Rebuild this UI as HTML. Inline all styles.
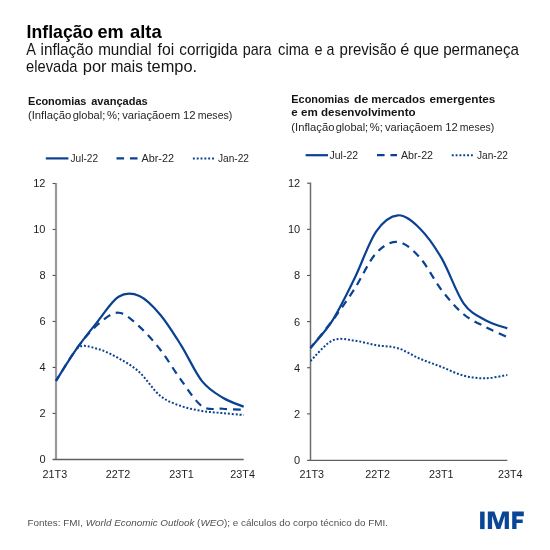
<!DOCTYPE html>
<html><head><meta charset="utf-8"><style>
html,body{margin:0;padding:0;background:#fff;}
svg{display:block;will-change:transform;}
</style></head><body>
<svg width="550" height="550" viewBox="0 0 550 550">
<rect width="550" height="550" fill="#fff"/>
<g font-family="Liberation Sans, sans-serif">
<text x="26.62" y="38.40" textLength="66.71" lengthAdjust="spacingAndGlyphs" font-size="17.90" font-weight="bold" font-style="normal" fill="#000">Inflação</text>
<text x="97.49" y="38.40" textLength="26.24" lengthAdjust="spacingAndGlyphs" font-size="17.90" font-weight="bold" font-style="normal" fill="#000">em</text>
<text x="129.99" y="38.40" textLength="31.66" lengthAdjust="spacingAndGlyphs" font-size="17.90" font-weight="bold" font-style="normal" fill="#000">alta</text>
<text x="26.30" y="54.60" textLength="9.70" lengthAdjust="spacingAndGlyphs" font-size="15.90" font-weight="normal" font-style="normal" fill="#141414">A</text>
<text x="40.54" y="54.60" textLength="52.68" lengthAdjust="spacingAndGlyphs" font-size="15.90" font-weight="normal" font-style="normal" fill="#141414">inflação</text>
<text x="98.14" y="54.60" textLength="53.45" lengthAdjust="spacingAndGlyphs" font-size="15.90" font-weight="normal" font-style="normal" fill="#141414">mundial</text>
<text x="157.60" y="54.60" textLength="16.62" lengthAdjust="spacingAndGlyphs" font-size="15.90" font-weight="normal" font-style="normal" fill="#141414">foi</text>
<text x="179.32" y="54.60" textLength="58.52" lengthAdjust="spacingAndGlyphs" font-size="15.90" font-weight="normal" font-style="normal" fill="#141414">corrigida</text>
<text x="242.70" y="54.60" textLength="28.75" lengthAdjust="spacingAndGlyphs" font-size="15.90" font-weight="normal" font-style="normal" fill="#141414">para</text>
<text x="278.05" y="54.60" textLength="31.00" lengthAdjust="spacingAndGlyphs" font-size="15.90" font-weight="normal" font-style="normal" fill="#141414">cima</text>
<text x="314.56" y="54.60" textLength="8.03" lengthAdjust="spacingAndGlyphs" font-size="15.90" font-weight="normal" font-style="normal" fill="#141414">e</text>
<text x="326.47" y="54.60" textLength="7.88" lengthAdjust="spacingAndGlyphs" font-size="15.90" font-weight="normal" font-style="normal" fill="#141414">a</text>
<text x="339.56" y="54.60" textLength="56.75" lengthAdjust="spacingAndGlyphs" font-size="15.90" font-weight="normal" font-style="normal" fill="#141414">previsão</text>
<text x="400.38" y="54.60" textLength="9.08" lengthAdjust="spacingAndGlyphs" font-size="15.90" font-weight="normal" font-style="normal" fill="#141414">é</text>
<text x="413.52" y="54.60" textLength="25.60" lengthAdjust="spacingAndGlyphs" font-size="15.90" font-weight="normal" font-style="normal" fill="#141414">que</text>
<text x="443.15" y="54.60" textLength="75.80" lengthAdjust="spacingAndGlyphs" font-size="15.90" font-weight="normal" font-style="normal" fill="#141414">permaneça</text>
<text x="26.05" y="71.70" textLength="51.50" lengthAdjust="spacingAndGlyphs" font-size="15.90" font-weight="normal" font-style="normal" fill="#141414">elevada</text>
<text x="82.76" y="71.70" textLength="23.84" lengthAdjust="spacingAndGlyphs" font-size="15.90" font-weight="normal" font-style="normal" fill="#141414">por</text>
<text x="110.64" y="71.70" textLength="32.19" lengthAdjust="spacingAndGlyphs" font-size="15.90" font-weight="normal" font-style="normal" fill="#141414">mais</text>
<text x="146.99" y="71.70" textLength="50.07" lengthAdjust="spacingAndGlyphs" font-size="15.90" font-weight="normal" font-style="normal" fill="#141414">tempo.</text>
<text x="28.10" y="105.10" textLength="58.26" lengthAdjust="spacingAndGlyphs" font-size="10.90" font-weight="bold" font-style="normal" fill="#141414">Economias</text>
<text x="91.20" y="105.10" textLength="56.57" lengthAdjust="spacingAndGlyphs" font-size="10.90" font-weight="bold" font-style="normal" fill="#141414">avançadas</text>
<text x="27.93" y="119.20" textLength="43.38" lengthAdjust="spacingAndGlyphs" font-size="10.20" font-weight="normal" font-style="normal" fill="#262626">(Inflação</text>
<text x="72.67" y="119.20" textLength="32.64" lengthAdjust="spacingAndGlyphs" font-size="10.20" font-weight="normal" font-style="normal" fill="#262626">global;</text>
<text x="106.97" y="119.20" textLength="13.15" lengthAdjust="spacingAndGlyphs" font-size="10.20" font-weight="normal" font-style="normal" fill="#262626">%;</text>
<text x="122.20" y="119.20" textLength="42.31" lengthAdjust="spacingAndGlyphs" font-size="10.20" font-weight="normal" font-style="normal" fill="#262626">variação</text>
<text x="164.87" y="119.20" textLength="15.17" lengthAdjust="spacingAndGlyphs" font-size="10.20" font-weight="normal" font-style="normal" fill="#262626">em</text>
<text x="182.92" y="119.20" textLength="12.60" lengthAdjust="spacingAndGlyphs" font-size="10.20" font-weight="normal" font-style="normal" fill="#262626">12</text>
<text x="197.68" y="119.20" textLength="34.64" lengthAdjust="spacingAndGlyphs" font-size="10.20" font-weight="normal" font-style="normal" fill="#262626">meses)</text>
<text x="291.30" y="103.20" textLength="58.16" lengthAdjust="spacingAndGlyphs" font-size="10.90" font-weight="bold" font-style="normal" fill="#141414">Economias</text>
<text x="354.05" y="103.20" textLength="14.36" lengthAdjust="spacingAndGlyphs" font-size="10.90" font-weight="bold" font-style="normal" fill="#141414">de</text>
<text x="371.27" y="103.20" textLength="54.01" lengthAdjust="spacingAndGlyphs" font-size="10.90" font-weight="bold" font-style="normal" fill="#141414">mercados</text>
<text x="429.57" y="103.20" textLength="65.82" lengthAdjust="spacingAndGlyphs" font-size="10.90" font-weight="bold" font-style="normal" fill="#141414">emergentes</text>
<text x="291.30" y="116.20" textLength="124.30" lengthAdjust="spacingAndGlyphs" font-size="10.90" font-weight="bold" font-style="normal" fill="#141414">e em desenvolvimento</text>
<text x="291.34" y="131.00" textLength="43.06" lengthAdjust="spacingAndGlyphs" font-size="10.20" font-weight="normal" font-style="normal" fill="#262626">(Inflação</text>
<text x="335.74" y="131.00" textLength="32.40" lengthAdjust="spacingAndGlyphs" font-size="10.20" font-weight="normal" font-style="normal" fill="#262626">global;</text>
<text x="369.79" y="131.00" textLength="13.06" lengthAdjust="spacingAndGlyphs" font-size="10.20" font-weight="normal" font-style="normal" fill="#262626">%;</text>
<text x="384.91" y="131.00" textLength="42.00" lengthAdjust="spacingAndGlyphs" font-size="10.20" font-weight="normal" font-style="normal" fill="#262626">variação</text>
<text x="427.27" y="131.00" textLength="15.05" lengthAdjust="spacingAndGlyphs" font-size="10.20" font-weight="normal" font-style="normal" fill="#262626">em</text>
<text x="445.18" y="131.00" textLength="12.51" lengthAdjust="spacingAndGlyphs" font-size="10.20" font-weight="normal" font-style="normal" fill="#262626">12</text>
<text x="459.83" y="131.00" textLength="34.38" lengthAdjust="spacingAndGlyphs" font-size="10.20" font-weight="normal" font-style="normal" fill="#262626">meses)</text>
<text x="27.60" y="525.60" textLength="360.40" lengthAdjust="spacingAndGlyphs" font-size="9.80" font-weight="normal" font-style="normal" fill="#505050">Fontes: FMI, <tspan font-style="italic">World Economic Outlook</tspan> (<tspan font-style="italic">WEO</tspan>); e cálculos do corpo técnico do FMI.</text>
</g>
<path d="M56.00,182.90 V459.40" stroke="#9a9a9a" stroke-width="2.20" fill="none"/>
<path d="M52.60,459.50 H243.70" stroke="#606060" stroke-width="1.3" fill="none"/>
<g stroke="#505050" stroke-width="1.1" fill="none">
<path d="M52.60,413.42 H55.50"/>
<path d="M52.60,367.43 H55.50"/>
<path d="M52.60,321.45 H55.50"/>
<path d="M52.60,275.47 H55.50"/>
<path d="M52.60,229.48 H55.50"/>
<path d="M52.60,183.50 H55.50"/>
</g>
<g font-family="Liberation Sans, sans-serif" font-size="11" fill="#1e1e1e" text-anchor="end">
<text x="45.50" y="463.30">0</text>
<text x="45.50" y="417.32">2</text>
<text x="45.50" y="371.33">4</text>
<text x="45.50" y="325.35">6</text>
<text x="45.50" y="279.37">8</text>
<text x="45.50" y="233.38">10</text>
<text x="45.50" y="187.40">12</text>
</g>
<g font-family="Liberation Sans, sans-serif" font-size="10.6" fill="#1e1e1e" text-anchor="middle">
<text x="54.90" y="477.8" textLength="24.6" lengthAdjust="spacingAndGlyphs">21T3</text>
<text x="118.00" y="477.8" textLength="24.6" lengthAdjust="spacingAndGlyphs">22T2</text>
<text x="181.50" y="477.8" textLength="24.6" lengthAdjust="spacingAndGlyphs">23T1</text>
<text x="242.60" y="477.8" textLength="24.6" lengthAdjust="spacingAndGlyphs">23T4</text>
</g>
<g fill="none" stroke="#0a4191" stroke-width="2.2">
<path d="M76.86,348.40 C83.81,343.09 90.76,347.32 97.71,348.96 C104.66,350.60 111.61,354.37 118.57,358.25 C125.52,362.13 132.47,365.96 139.42,372.23 C146.37,378.50 153.33,390.24 160.28,395.89 C167.23,401.53 174.18,403.58 181.13,406.09 C188.09,408.60 195.04,409.76 201.99,410.94 C208.94,412.11 215.89,412.47 222.84,413.15 C229.80,413.82 240.22,414.69 243.70,415.00" stroke-dasharray="1.95 1.88" stroke-width="2.0"/>
<path d="M56.00,380.80 C59.48,375.40 69.90,357.78 76.86,348.40 C83.81,339.02 90.76,330.47 97.71,324.53 C104.66,318.58 111.61,312.38 118.57,312.73 C125.52,313.09 132.47,320.49 139.42,326.65 C146.37,332.81 153.33,340.79 160.28,349.70 C167.23,358.60 174.18,370.67 181.13,380.07 C188.09,389.48 195.04,401.36 201.99,406.14 C208.94,410.92 215.89,408.14 222.84,408.75 C229.80,409.37 240.22,409.64 243.70,409.81" stroke-dasharray="7.6 5.85" stroke-dashoffset="2.3"/>
<path d="M56.00,380.80 C59.48,375.40 69.90,358.29 76.86,348.40 C83.81,338.51 90.76,330.04 97.71,321.44 C104.66,312.84 111.61,301.05 118.57,296.80 C125.52,292.55 132.47,292.98 139.42,295.96 C146.37,298.94 153.33,306.45 160.28,314.68 C167.23,322.91 174.18,334.27 181.13,345.34 C188.09,356.41 195.04,372.38 201.99,381.11 C208.94,389.84 215.89,393.46 222.84,397.71 C229.80,401.97 240.22,405.16 243.70,406.66"/>
</g>
<g fill="none" stroke="#0a4191" stroke-width="2.2">
<path d="M45.80,158.40 H68.40"/>
<path d="M116.50,158.40 H137.60" stroke-dasharray="7.6 5.85"/>
<path d="M192.90,158.40 H214.10" stroke-dasharray="1.9 1.93" stroke-width="2.0"/>
</g>
<g font-family="Liberation Sans, sans-serif" font-size="10.6" fill="#262626">
<text x="70.50" y="161.70" textLength="27.50" lengthAdjust="spacingAndGlyphs">Jul-22</text>
<text x="141.40" y="161.70" textLength="32.60" lengthAdjust="spacingAndGlyphs">Abr-22</text>
<text x="218.00" y="161.70" textLength="31.00" lengthAdjust="spacingAndGlyphs">Jan-22</text>
</g>
<path d="M310.50,182.60 V460.00" stroke="#6e6e6e" stroke-width="1.50" fill="none"/>
<path d="M307.10,460.40 H507.30" stroke="#606060" stroke-width="1.3" fill="none"/>
<g stroke="#505050" stroke-width="1.1" fill="none">
<path d="M307.10,413.87 H310.00"/>
<path d="M307.10,367.73 H310.00"/>
<path d="M307.10,321.60 H310.00"/>
<path d="M307.10,275.47 H310.00"/>
<path d="M307.10,229.33 H310.00"/>
<path d="M307.10,183.20 H310.00"/>
</g>
<g font-family="Liberation Sans, sans-serif" font-size="11" fill="#1e1e1e" text-anchor="end">
<text x="300.20" y="463.90">0</text>
<text x="300.20" y="417.77">2</text>
<text x="300.20" y="371.63">4</text>
<text x="300.20" y="325.50">6</text>
<text x="300.20" y="279.37">8</text>
<text x="300.20" y="233.23">10</text>
<text x="300.20" y="187.10">12</text>
</g>
<g font-family="Liberation Sans, sans-serif" font-size="10.6" fill="#1e1e1e" text-anchor="middle">
<text x="311.80" y="477.8" textLength="24.6" lengthAdjust="spacingAndGlyphs">21T3</text>
<text x="377.60" y="477.8" textLength="24.6" lengthAdjust="spacingAndGlyphs">22T2</text>
<text x="441.20" y="477.8" textLength="24.6" lengthAdjust="spacingAndGlyphs">23T1</text>
<text x="510.25" y="477.8" textLength="24.6" lengthAdjust="spacingAndGlyphs">23T4</text>
</g>
<g fill="none" stroke="#0a4191" stroke-width="2.2">
<path d="M310.50,361.00 C314.14,357.58 325.08,343.91 332.37,340.50 C339.66,337.10 346.94,339.81 354.23,340.59 C361.52,341.38 368.81,343.92 376.10,345.20 C383.39,346.47 390.68,346.01 397.97,348.26 C405.26,350.50 412.54,355.53 419.83,358.65 C427.12,361.77 434.41,364.16 441.70,366.99 C448.99,369.83 456.28,373.77 463.57,375.65 C470.86,377.53 478.14,378.38 485.43,378.27 C492.72,378.15 503.66,375.50 507.30,374.95" stroke-dasharray="1.95 1.88" stroke-width="2.0"/>
<path d="M310.50,348.00 C314.14,343.43 325.08,330.37 332.37,320.60 C339.66,310.83 346.94,300.60 354.23,289.37 C361.52,278.15 368.81,261.15 376.10,253.26 C383.39,245.37 390.68,241.31 397.97,242.02 C405.26,242.73 412.54,249.50 419.83,257.54 C427.12,265.57 434.41,280.79 441.70,290.24 C448.99,299.69 456.28,308.12 463.57,314.23 C470.86,320.35 478.14,323.12 485.43,326.95 C492.72,330.77 503.66,335.46 507.30,337.16" stroke-dasharray="7.6 5.85" stroke-dashoffset="2.3"/>
<path d="M310.50,348.00 C314.14,343.43 325.08,332.09 332.37,320.60 C339.66,309.11 346.94,293.91 354.23,279.08 C361.52,264.25 368.81,242.25 376.10,231.62 C383.39,220.99 390.68,215.81 397.97,215.28 C405.26,214.75 412.54,221.28 419.83,228.46 C427.12,235.64 434.41,245.88 441.70,258.36 C448.99,270.84 456.28,293.02 463.57,303.33 C470.86,313.64 478.14,316.06 485.43,320.23 C492.72,324.41 503.66,327.03 507.30,328.39"/>
</g>
<g fill="none" stroke="#0a4191" stroke-width="2.2">
<path d="M305.60,155.20 H328.00"/>
<path d="M377.00,155.20 H397.00" stroke-dasharray="7.6 5.85"/>
<path d="M451.80,155.20 H473.00" stroke-dasharray="1.9 1.93" stroke-width="2.0"/>
</g>
<g font-family="Liberation Sans, sans-serif" font-size="10.6" fill="#262626">
<text x="329.60" y="158.50" textLength="28.40" lengthAdjust="spacingAndGlyphs">Jul-22</text>
<text x="401.00" y="158.50" textLength="32.00" lengthAdjust="spacingAndGlyphs">Abr-22</text>
<text x="477.00" y="158.50" textLength="31.00" lengthAdjust="spacingAndGlyphs">Jan-22</text>
</g>
<g fill="#0b4595"><rect x="480.1" y="511.6" width="4.5" height="17.5"/><path d="M487.8,511.6 H494.4 L498.4,523.3 L502.4,511.6 H508.9 V529.1 H504.7 V515.8 L500.3,529.1 H496.5 L492.1,515.8 V529.1 H487.8 Z"/><path d="M512.2,511.6 H523.8 V516.3 H516.5 V519.6 H522.7 V522.9 H516.5 V529.1 H512.2 Z"/></g>
</svg>
</body></html>
